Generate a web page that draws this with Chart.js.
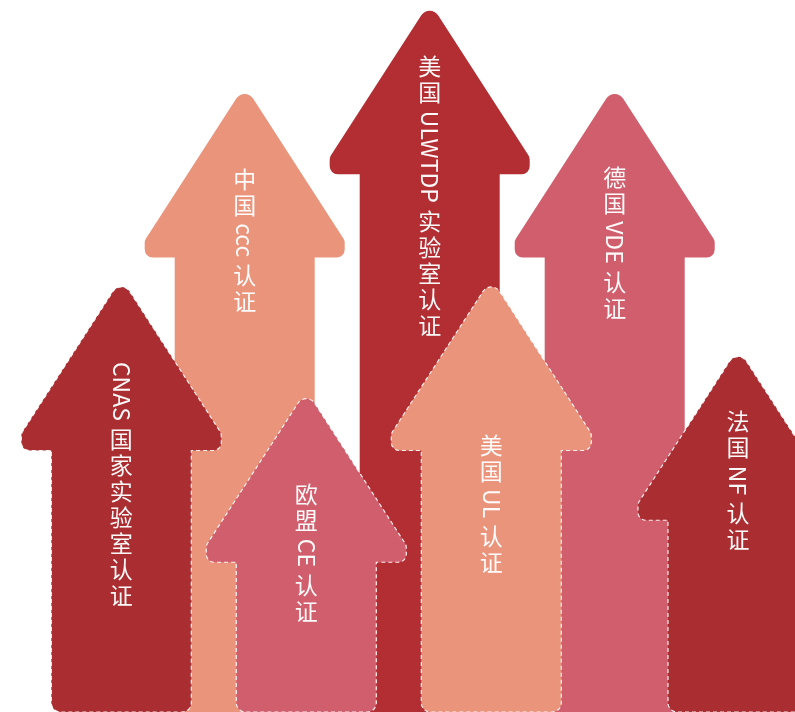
<!DOCTYPE html>
<html>
<head>
<meta charset="utf-8">
<script src="https://cdn.jsdelivr.net/npm/chart.js@4"></script>
<style>
  html, body { margin: 0; padding: 0; background: #ffffff; }
  #wrap { width: 795px; height: 712px; position: relative; }
</style>
</head>
<body>
<div id="wrap"><canvas id="c"></canvas></div>
<script>
// ---- data ----
const categories = ['CNAS 国家实验室认证', '欧盟 CE 认证', '美国 UL 认证', '法国 NF 认证'];
const frontLabels = ['CNAS 国家实验室认证', '欧盟 CE 认证', '美国 UL 认证', '法国 NF 认证'];
const frontValues = [59.7, 44.0, 59.7, 49.9];
const backLabels = ['中国 ccc 认证', '美国 ULWTDP 实验室认证', '德国 VDE 认证'];
const backValues = [86.8, 98.5, 86.8, null];

// ---- styles ----
const DARK_BACK = '#B22E33';
const DARK_FRONT = '#A92D31';
const SALMON = '#EB947C';
const PINK = '#D05E6D';

function arrowPath(ctx, cx, top, base, s) {
  const half = Math.atan(s.hw / s.hs);
  const apex = top - s.rTip * (1 / Math.sin(half) - 1);
  const yWing1 = apex + s.hs;
  const yWing2 = apex + s.h;
  ctx.beginPath();
  ctx.moveTo(cx, base);
  ctx.arcTo(cx - s.sw, base, cx - s.sw, yWing2, s.rBot);
  ctx.arcTo(cx - s.sw, yWing2, cx - s.hw, yWing2, 0.01);
  ctx.arcTo(cx - s.hw, yWing2, cx - s.hw, yWing1, s.rWing);
  ctx.arcTo(cx - s.hw, yWing1, cx, apex, s.rWing);
  ctx.arcTo(cx, apex, cx + s.hw, yWing1, s.rTip);
  ctx.arcTo(cx + s.hw, yWing1, cx + s.hw, yWing2, s.rWing);
  ctx.arcTo(cx + s.hw, yWing2, cx + s.sw, yWing2, s.rWing);
  ctx.arcTo(cx + s.sw, yWing2, cx + s.sw, base, 0.01);
  ctx.arcTo(cx + s.sw, base, cx, base, s.rBot);
  ctx.closePath();
}

function drawVertical(ctx, text, cx, yStart, fs, adv) {
  let y = yStart;
  const runs = text.match(/[\u3000-\u9fff\uff00-\uffef]|[^\u3000-\u9fff\uff00-\uffef]+/g) || [];
  for (const run of runs) {
    if (/[\u3000-\u9fff\uff00-\uffef]/.test(run)) {
      ctx.textAlign = 'center';
      ctx.textBaseline = 'middle';
      ctx.fillText(run, cx, y + adv / 2);
      y += adv;
    } else {
      const w = ctx.measureText(run).width;
      ctx.save();
      ctx.translate(cx, y);
      ctx.rotate(Math.PI / 2);
      ctx.textAlign = 'left';
      ctx.textBaseline = 'middle';
      ctx.fillText(run, 0, 0);
      ctx.restore();
      y += w;
    }
  }
}

const arrowPlugin = {
  id: 'arrows',
  afterDatasetsDraw(chart, args, opts) {
    const ctx = chart.ctx;
    const order = [1, 0]; // back row first, then front row
    for (const di of order) {
      const ds = chart.data.datasets[di];
      const meta = chart.getDatasetMeta(di);
      meta.data.forEach((el, i) => {
        const v = ds.data[i];
        if (v === null || v === undefined) return;
        ctx.save();
        arrowPath(ctx, el.x, el.y, el.base, opts.shape);
        ctx.fillStyle = ds.arrowColors[i];
        ctx.fill();
        if (ds.dashed) {
          ctx.setLineDash([4, 3]);
          ctx.lineWidth = 1.2;
          ctx.strokeStyle = 'rgba(255,255,255,0.9)';
          ctx.stroke();
        }
        ctx.restore();
        // label
        ctx.save();
        ctx.fillStyle = 'rgba(255,255,255,0.97)';
        ctx.font = '400 23px "Noto Sans CJK SC", "Noto Sans", sans-serif';
        drawVertical(ctx, ds.names[i], el.x, el.y + ds.labelOffsets[i], 23, 26);
        ctx.restore();
      });
    }
  }
};

new Chart(document.getElementById('c'), {
  type: 'bar',
  data: {
    labels: categories,
    datasets: [
      {
        label: 'front',
        data: frontValues,
        names: frontLabels,
        arrowColors: [DARK_FRONT, PINK, SALMON, DARK_FRONT],
        labelOffsets: [75, 83, 145, 52],
        dashed: true,
        backgroundColor: 'rgba(0,0,0,0)',
        borderWidth: 0,
        skipNull: true
      },
      {
        label: 'back',
        data: backValues,
        names: backLabels,
        arrowColors: [SALMON, DARK_BACK, PINK],
        labelOffsets: [72, 43, 70],
        dashed: false,
        backgroundColor: 'rgba(0,0,0,0)',
        borderWidth: 0,
        skipNull: true
      }
    ]
  },
  options: {
    responsive: true,
    maintainAspectRatio: false,
    animation: false,
    devicePixelRatio: 1,
    layout: { padding: { left: 183, right: 57, top: 0, bottom: 0 } },
    datasets: { bar: { categoryPercentage: 1.334, barPercentage: 1, skipNull: true } },
    scales: {
      x: { type: 'category', display: false, offset: false, grid: { display: false } },
      y: { display: false, min: 0, max: 100, grid: { display: false } }
    },
    plugins: {
      legend: { display: false },
      tooltip: { enabled: false },
      arrows: {
        shape: { hw: 100, sw: 70, h: 172, hs: 155, rTip: 10, rWing: 8, rBot: 9 }
      }
    }
  },
  plugins: [arrowPlugin]
});
</script>
</body>
</html>
